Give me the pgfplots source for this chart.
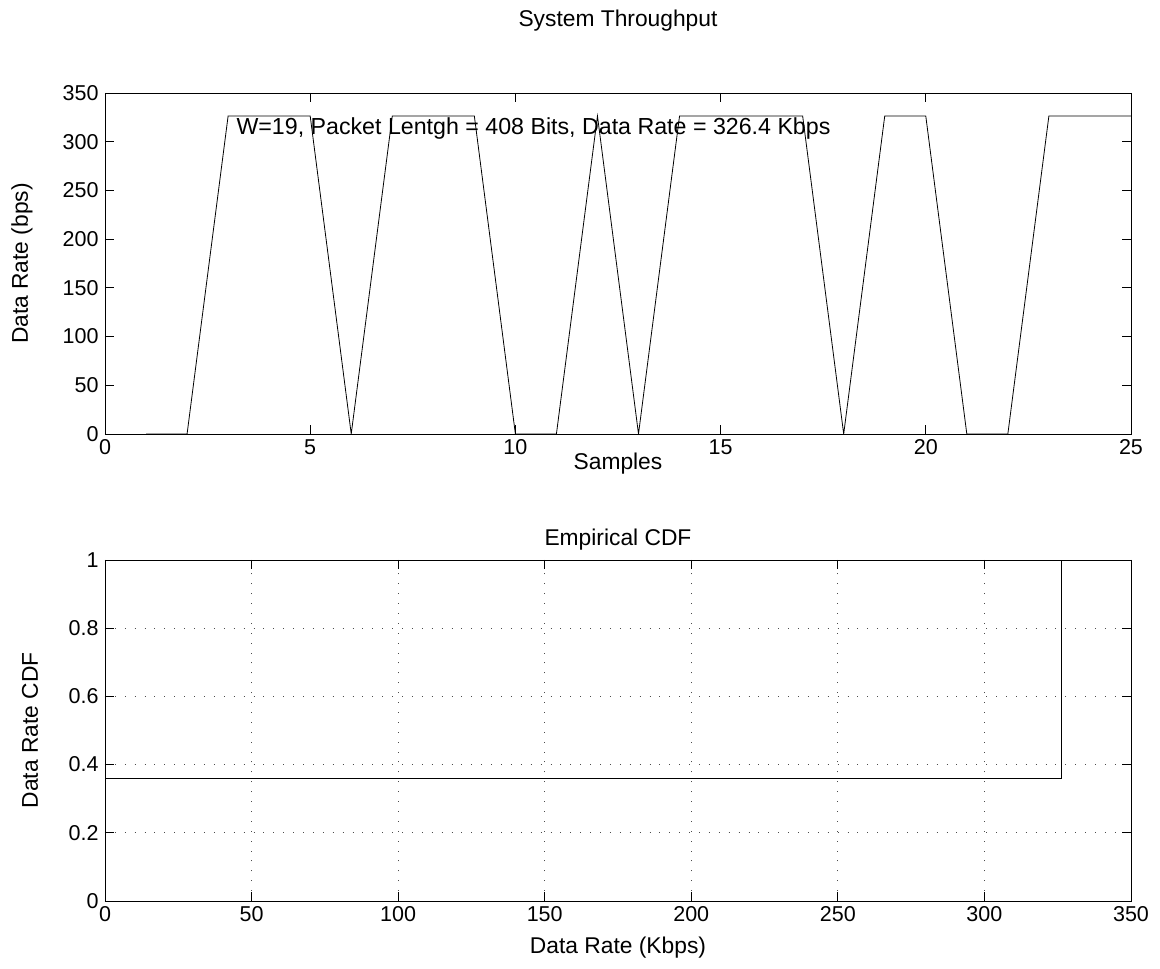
\documentclass[border=0pt]{standalone}
\usepackage{pgfplots}
\pgfplotsset{compat=1.18}
\usepackage{fontspec}
\setmainfont{Liberation Sans}

\newcommand{\tck}{\fontsize{21.5}{25}\selectfont}
\newcommand{\lbl}{\fontsize{22.8}{26}\selectfont}
\newcommand{\ann}{\fontsize{23.2}{27}\selectfont}

\pgfplotsset{
  matlabstyle/.style={
    scale only axis,
    width=1026pt, height=341pt,
    anchor=south west,
    axis line style={line width=0.9pt},
    tick align=inside,
    xtick pos=both, ytick pos=both,
    major tick length=9pt,
    tick style={line width=0.9pt, black},
    tick label style={font=\tck},
    /pgf/number format/assume math mode=true,
    xticklabel style={yshift=-2pt},
    yticklabel style={xshift=-3pt},
    clip mode=individual,
  }
}

\begin{document}
\begin{tikzpicture}[x=1pt,y=1pt]
\path[use as bounding box] (0,0) rectangle (1160,969);

% Throughput per sample
\begin{axis}[matlabstyle,
  at={(105pt,535pt)},
  xmin=0, xmax=25, ymin=0, ymax=350,
  xtick={0,5,10,15,20,25},
  ytick={0,50,100,150,200,250,300,350},
]
\addplot[black, line width=0.8pt] coordinates {
  (1,0) (2,0) (3,326.4) (4,326.4) (5,326.4) (6,0) (7,326.4) (8,326.4)
  (9,326.4) (10,0) (11,0) (12,326.4) (13,0) (14,326.4) (15,326.4)
  (16,326.4) (17,326.4) (18,0) (19,326.4) (20,326.4) (21,0) (22,0)
  (23,326.4) (24,326.4) (25,326.4)
};
\node[anchor=west, font=\ann, inner sep=0pt] at (axis cs:3.2,314)
  {W=19, Packet Lentgh = 408 Bits, Data Rate = 326.4 Kbps};
\node[font=\lbl] at ([yshift=72pt]rel axis cs:0.5,1) {System Throughput};
\node[font=\lbl] at ([yshift=-30pt]rel axis cs:0.5,0) {Samples};
\node[font=\lbl, rotate=90] at ([xshift=-83pt]rel axis cs:0,0.5) {Data Rate (bps)};
\end{axis}

% Empirical CDF of the data rate
\begin{axis}[matlabstyle,
  at={(105pt,68pt)},
  xmin=0, xmax=350, ymin=0, ymax=1,
  xtick={0,50,100,150,200,250,300,350},
  ytick={0,0.2,0.4,0.6,0.8,1},
  yticklabels={0,0.2,0.4,0.6,0.8,1},
  grid=major,
  major grid style={black!70, line width=0.9pt, dash pattern=on 0.9pt off 9pt},
]
\addplot[black, line width=0.8pt] coordinates {
  (0,0) (0,0.36) (326.4,0.36) (326.4,1)
};
\node[font=\lbl] at ([yshift=20pt]rel axis cs:0.5,1) {Empirical CDF};
\node[font=\lbl] at ([yshift=-47pt]rel axis cs:0.5,0) {Data Rate (Kbps)};
\node[font=\lbl, rotate=90] at ([xshift=-75pt]rel axis cs:0,0.5) {Data Rate CDF};
\end{axis}
\end{tikzpicture}
\end{document}
